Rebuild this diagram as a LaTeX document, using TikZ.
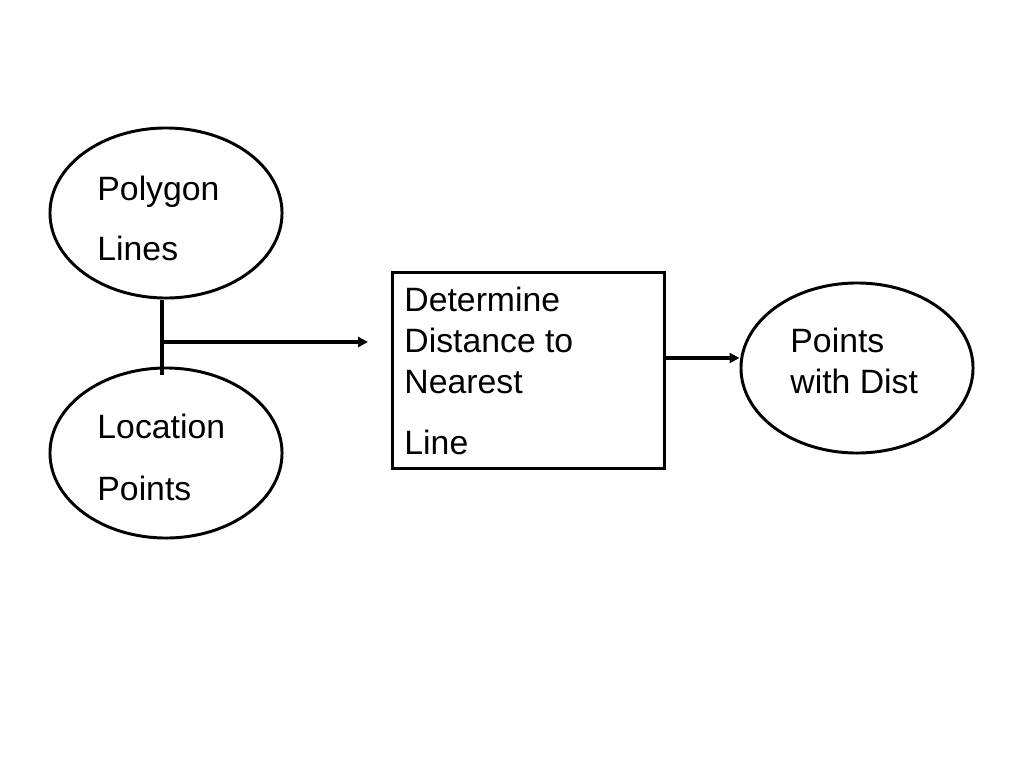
\documentclass[tikz,border=0pt]{standalone}
\usepackage{fontspec}
\setmainfont{Liberation Sans}
\usetikzlibrary{arrows.meta,positioning,shapes.geometric}

\begin{document}
\begin{tikzpicture}[
    x = 0.025cm, y = -0.025cm, % one unit is one pixel of the page
    > = {Triangle[length=7pt,width=7pt]}, % arrow head style
    line width = 2.1pt % line style
    ]

    \tikzset{
    blob/.style = {draw = black, ellipse, inner sep = 0pt,
        minimum width = 5.8cm, minimum height = 4.25cm},
    task/.style = {draw = black, rectangle, inner sep = 0pt,
        minimum width = 6.8cm, minimum height = 4.9cm},
    link/.style = {draw = black, line width = 2.4pt},
    lbl/.style = {anchor = base west, inner sep = 0pt,
        font = \fontsize{24}{29}\selectfont}
    }
    \useasboundingbox (0,0) rectangle (1024,768);

    \node[blob] (lines) at (166,213) {};
    \node[blob] (points) at (166,453) {};
    \node[task] (dist) at (528.5,370.5) {};
    \node[blob] (result) at (857,368) {};

    \node[lbl] (t1) at (96,200) {Polygon};
    \node[lbl] (t2) at (96,260) {Lines};
    \node[lbl] (t3) at (96,438) {Location};
    \node[lbl] (t4) at (96,500) {Points};
    \node[lbl] (t5) at (403,311) {Determine};
    \node[lbl] (t6) at (403,352) {Distance to};
    \node[lbl] (t7) at (403,393) {Nearest};
    \node[lbl] (t8) at (403,454) {Line};
    \node[lbl] (t9) at (789,352) {Points};
    \node[lbl] (t10) at (789,393) {with Dist};

    \coordinate (tee) at (162,342);
    \coordinate (stem) at (162,375);
    \coordinate (tip) at (368,342);

    \draw[link] (lines.south -| tee) -- (stem);
    \draw[link,->] (tee) -- (tip);
    \draw[link,->] (dist.east |- 0,358) -- (result.west |- 0,358);
\end{tikzpicture}
\end{document}
